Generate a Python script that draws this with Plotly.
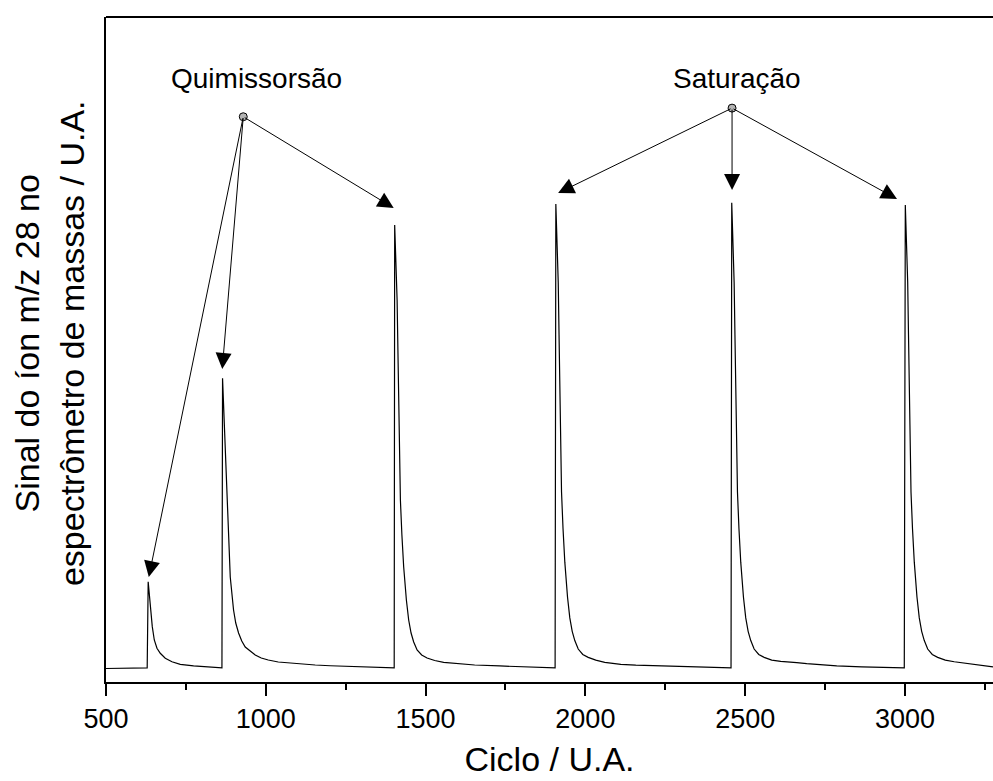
import plotly.graph_objects as go

# ---- data (cycle vs. m/z 28 signal, arbitrary units) ----
cycle = [
    500, 628.9, 632.0, 636.4, 640.8, 644.8, 651.1, 659.5, 669.8, 685.5, 706.4, 732.4,
    774.0, 815.9, 857.5,
    862.8, 864.7, 868.5, 873.2, 877.2, 881.6, 888.8, 899.1, 906.0, 914.8, 924.8, 935.7,
    951.4, 967.0, 985.8, 1007.7, 1039.0, 1070.2, 1107.8, 1154.7, 1201.6, 1254.8, 1311.1,
    1358.0, 1400.2,
    1401.8, 1403.3, 1407.1, 1410.9, 1413.4, 1415.9, 1418.7, 1421.2, 1425.9, 1431.5,
    1439.9, 1447.1, 1454.6, 1462.8, 1473.4, 1487.8, 1504.7, 1528.5, 1556.6, 1606.7,
    1653.6, 1731.8, 1810.0, 1899.1,
    1905.3, 1907.6, 1911.3, 1915.1, 1917.6, 1920.1, 1922.9, 1925.4, 1930.1, 1935.7,
    1944.1, 1951.3, 1958.8, 1966.9, 1977.6, 1991.9, 2008.8, 2032.6, 2060.8, 2110.8,
    2157.8, 2236.0, 2314.2, 2358.9, 2454.3,
    2455.8, 2458.0, 2461.8, 2465.5, 2468.0, 2470.5, 2473.3, 2475.9, 2480.6, 2486.2,
    2494.6, 2501.8, 2509.3, 2517.5, 2528.1, 2542.5, 2559.4, 2583.2, 2611.3, 2639.5,
    2661.4, 2692.6, 2739.6, 2786.5, 2864.7, 2995.4,
    2997.9, 3001.1, 3004.8, 3008.6, 3011.1, 3013.6, 3016.4, 3018.9, 3023.6, 3029.2,
    3037.6, 3044.8, 3052.3, 3060.5, 3071.1, 3085.5, 3102.4, 3126.2, 3154.3, 3204.4,
    3251.3, 3275.4]
signal = [
    2.03, 2.11, 15.08, 12.83, 10.33, 8.32, 6.32, 5.07, 4.32, 3.57, 3.05, 2.66,
    2.41, 2.26, 2.15,
    2.11, 45.67, 40.90, 33.38, 28.12, 23.31, 15.79, 10.83, 8.87, 7.37, 6.17, 5.26,
    4.59, 4.06, 3.61, 3.31, 3.01, 2.86, 2.71, 2.56, 2.44, 2.36, 2.26,
    2.18, 2.11,
    2.11, 68.72, 63.46, 57.44, 49.92, 42.41, 34.89, 27.37, 22.11, 17.29,
    12.33, 9.32, 7.37, 6.02, 4.81, 4.06, 3.61, 3.23, 2.96, 2.71,
    2.56, 2.41, 2.26, 2.11,
    2.11, 71.88, 66.36, 60.09, 52.21, 44.32, 36.44, 28.56, 23.04, 18.02,
    12.78, 9.64, 7.62, 6.23, 4.96, 4.14, 3.71, 3.29, 2.96, 2.66,
    2.53, 2.42, 2.24, 2.18, 2.11,
    2.11, 72.08, 66.36, 60.09, 52.21, 44.32, 36.44, 28.56, 23.04, 18.02,
    12.78, 9.64, 7.62, 6.23, 4.96, 4.14, 3.71, 3.29, 3.10, 3.05,
    2.90, 2.75, 2.56, 2.42, 2.26, 2.11,
    2.11, 71.73, 66.36, 60.09, 52.21, 44.32, 36.44, 28.56, 23.04, 18.02,
    12.78, 9.64, 7.62, 6.23, 4.96, 4.14, 3.71, 3.29, 3.05, 2.75,
    2.45, 2.26]

# annotation arrows: origin point and arrow tips (cycle, signal)
quimi_origin = (929.5, 85.0)
quimi_tips_x = [633.9, 863.8, 1400.2]
quimi_tips_y = [15.79, 47.07, 71.28]
satur_origin = (2459.0, 86.3)
satur_tips_x = [1914.8, 2459.0, 2975.1]
satur_tips_y = [73.53, 73.98, 72.63]
label_pos = {"Quimissorsão": (970.0, 90.8), "Saturação": (2474.0, 90.8)}

x_ticks = [500, 1000, 1500, 2000, 2500, 3000]

FONT = "Liberation Sans, Arial, sans-serif"

fig = go.Figure()
fig.add_trace(go.Scatter(x=cycle, y=signal, mode="lines",
                         line=dict(color="black", width=1.2),
                         hoverinfo="skip", showlegend=False))

annotations = []
for origin, tx, ty in [(quimi_origin, quimi_tips_x, quimi_tips_y),
                       (satur_origin, satur_tips_x, satur_tips_y)]:
    for x, y in zip(tx, ty):
        annotations.append(dict(x=x, y=y, ax=origin[0], ay=origin[1],
                                xref="x", yref="y", axref="x", ayref="y", text="",
                                showarrow=True, arrowhead=2, arrowsize=3.2, arrowwidth=1,
                                arrowcolor="black", standoff=0))

for txt, (lx, ly) in label_pos.items():
    annotations.append(dict(x=lx, y=ly, xref="x", yref="y", text=txt, showarrow=False,
                            font=dict(family=FONT, size=28, color="black")))

annotations.append(dict(x=-0.064, y=0.51, xref="paper", yref="paper",
                        text="Sinal do íon m/z 28 no<br>espectrômetro de massas / U.A.",
                        textangle=-90, showarrow=False, xanchor="center", yanchor="middle",
                        font=dict(family=FONT, size=34, color="black")))

fig.add_trace(go.Scatter(x=[quimi_origin[0], satur_origin[0]],
                         y=[quimi_origin[1], satur_origin[1]], mode="markers",
                         marker=dict(size=8, color="#b4b4b4",
                                     line=dict(color="black", width=1)),
                         hoverinfo="skip", showlegend=False))

fig.update_layout(
    width=993, height=781,
    margin=dict(l=106, r=0, t=17, b=99),
    paper_bgcolor="white", plot_bgcolor="white",
    annotations=annotations,
    shapes=[dict(type="line", xref="paper", yref="paper", x0=0, x1=1, y0=1, y1=1,
                 line=dict(color="black", width=2))],
    xaxis=dict(range=[500, 3275.5], tickvals=x_ticks,
               ticktext=[str(v) for v in x_ticks],
               ticks="outside", ticklen=12, tickwidth=1.5, tickcolor="black",
               minor=dict(dtick=250, ticks="outside", ticklen=6, tickwidth=1.5,
                          tickcolor="black"),
               showline=True, linewidth=2, linecolor="black", mirror=False,
               showgrid=False, zeroline=False,
               tickfont=dict(family=FONT, size=27, color="black"),
               title=dict(text="Ciclo / U.A.", standoff=14,
                          font=dict(family=FONT, size=34, color="black"))),
    yaxis=dict(range=[0, 100], showticklabels=False, ticks="",
               showline=True, linewidth=2, linecolor="black",
               showgrid=False, zeroline=False),
)

fig.write_html("out.html")
